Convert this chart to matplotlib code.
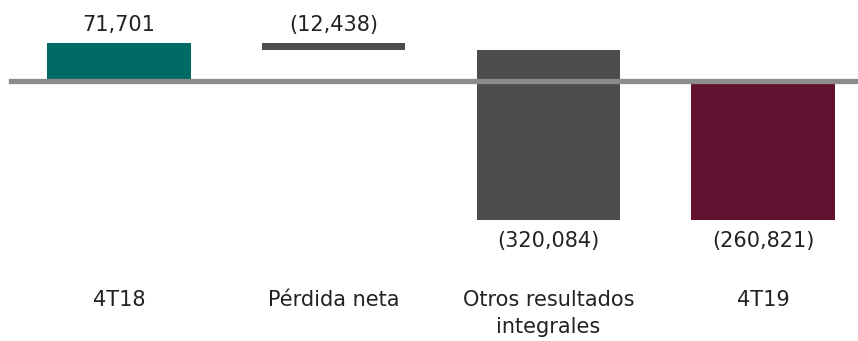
import matplotlib
matplotlib.use("Agg")
import matplotlib.pyplot as plt
import matplotlib.transforms as mtransforms
import numpy as np

categories = ["4T18", "Pérdida neta", "Otros resultados\nintegrales", "4T19"]
values = [71701, -12438, -320084, -260821]
value_labels = ["71,701", "(12,438)", "(320,084)", "(260,821)"]
is_total = [True, False, False, True]
colors = ["#006a64", "#4d4d4d", "#4d4d4d", "#621230"]

plt.rcParams['font.family'] = ['DejaVu Sans']

fig = plt.figure(figsize=(8.58, 3.41), dpi=100)
ax = fig.add_axes([0, 0, 1, 1])

# waterfall bottoms: totals start at zero, changes hang off the running sum
bottoms = []
running = 0
for v, tot in zip(values, is_total):
    if tot:
        bottoms.append(0)
        running = v
    else:
        bottoms.append(running)
        running += v
bottoms = np.array(bottoms)
vals = np.array(values)

x = np.arange(len(categories))
ax.bar(x, vals, bottom=bottoms, width=0.668, color=colors, zorder=2)

ax.set_xlim(-0.554, 3.442)
ax.set_ylim(-489400, 153700)
ax.axhline(0, xmin=11 / 858, xmax=1, color="#8c8c8c", lw=3.8, zorder=3)

fs = 15
for xi, v, b, lab in zip(x, vals, bottoms, value_labels):
    top = max(b, b + v)
    low = min(b, b + v)
    if b + v > 0:
        ax.annotate(lab, (xi, top), xytext=(0, 13.3), textcoords="offset points",
                    ha="center", va="center", fontsize=fs, color="#222222")
    else:
        ax.annotate(lab, (xi, low), xytext=(0, -15), textcoords="offset points",
                    ha="center", va="center", fontsize=fs, color="#222222")

trans = mtransforms.blended_transform_factory(ax.transData, ax.transAxes)
for xi, cat in zip(x, categories):
    ax.text(xi, 1 - 290 / 341, cat, transform=trans, ha="center", va="top",
            fontsize=fs, color="#222222", linespacing=1.45)

ax.axis("off")
fig.savefig("out.png", dpi=100)
